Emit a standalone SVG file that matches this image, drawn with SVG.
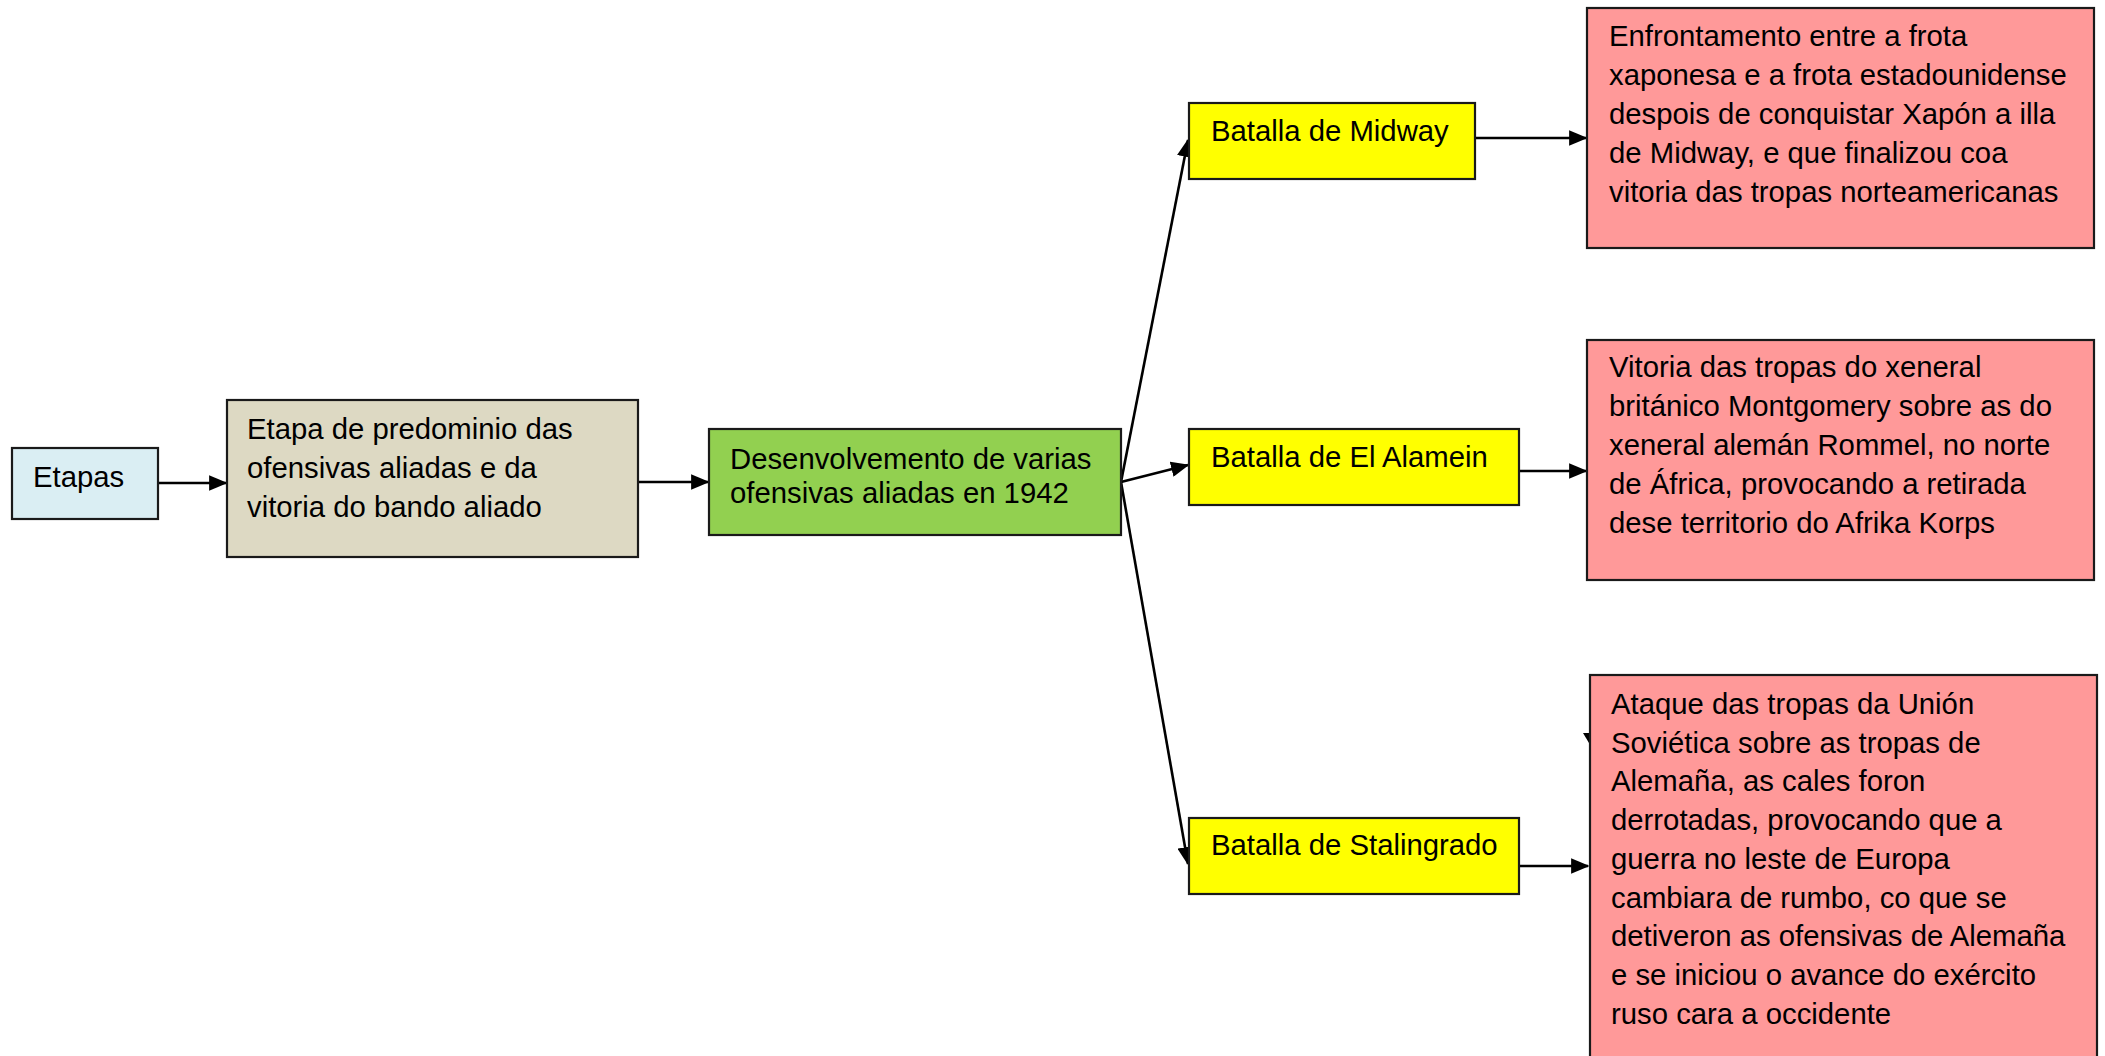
<svg xmlns="http://www.w3.org/2000/svg" width="2105" height="1056" viewBox="0 0 2105 1056">
<defs>
<marker id="ah" markerWidth="7" markerHeight="6" refX="6.5" refY="3" orient="auto" markerUnits="strokeWidth">
<path d="M0,0 L7,3 L0,6 Z" fill="#000"/>
</marker>
<style>
.box{stroke:#1a1a1a;stroke-width:2.2}
.t{font-family:"Liberation Sans",Arial,sans-serif;font-size:29.3px;fill:#000}
.c{stroke:#000;stroke-width:2.6;fill:none;marker-end:url(#ah)}
</style>
</defs>
<rect width="2105" height="1056" fill="#fff"/>
<g id="connectors">
<line class="c" x1="158" y1="483" x2="226" y2="483"/>
<line class="c" x1="638" y1="482" x2="708" y2="482"/>
<line class="c" x1="1121" y1="482" x2="1188" y2="140"/>
<line class="c" x1="1121" y1="482" x2="1188" y2="465"/>
<line class="c" x1="1121" y1="482" x2="1188" y2="864"/>
<line class="c" x1="1475" y1="138" x2="1586" y2="138"/>
<line class="c" x1="1519" y1="471" x2="1586" y2="471"/>
<line class="c" x1="1519" y1="866" x2="1588" y2="866"/>
<path d="M1583,733 L1592,733 L1589,743 Z" fill="#000"/>
</g>
<g id="etapas">
<rect class="box" x="12" y="448" width="146" height="71" fill="#DAEEF3"/>
<text class="t" x="33" y="487">Etapas</text>
</g>
<g id="etapa-predominio">
<rect class="box" x="227" y="400" width="411" height="157" fill="#DDD9C3"/>
<text class="t" x="247" y="439">Etapa de predominio das</text>
<text class="t" x="247" y="478">ofensivas aliadas e da</text>
<text class="t" x="247" y="517">vitoria do bando aliado</text>
</g>
<g id="desenvolvemento">
<rect class="box" x="709" y="429" width="412" height="106" fill="#92D050"/>
<text class="t" x="730" y="469">Desenvolvemento de varias</text>
<text class="t" x="730" y="503">ofensivas aliadas en 1942</text>
</g>
<g id="midway">
<rect class="box" x="1189" y="103" width="286" height="76" fill="#FFFF00"/>
<text class="t" x="1211" y="141">Batalla de Midway</text>
</g>
<g id="alamein">
<rect class="box" x="1189" y="429" width="330" height="76" fill="#FFFF00"/>
<text class="t" x="1211" y="467">Batalla de El Alamein</text>
</g>
<g id="stalingrado">
<rect class="box" x="1189" y="818" width="330" height="76" fill="#FFFF00"/>
<text class="t" x="1211" y="855">Batalla de Stalingrado</text>
</g>
<g id="midway-desc">
<rect class="box" x="1587" y="8" width="507" height="240" fill="#FF9999"/>
<text class="t" x="1609" y="46">Enfrontamento entre a frota</text>
<text class="t" x="1609" y="85">xaponesa e a frota estadounidense</text>
<text class="t" x="1609" y="124">despois de conquistar Xapón a illa</text>
<text class="t" x="1609" y="163">de Midway, e que finalizou coa</text>
<text class="t" x="1609" y="202">vitoria das tropas norteamericanas</text>
</g>
<g id="alamein-desc">
<rect class="box" x="1587" y="340" width="507" height="240" fill="#FF9999"/>
<text class="t" x="1609" y="377">Vitoria das tropas do xeneral</text>
<text class="t" x="1609" y="416">británico Montgomery sobre as do</text>
<text class="t" x="1609" y="455">xeneral alemán Rommel, no norte</text>
<text class="t" x="1609" y="494">de África, provocando a retirada</text>
<text class="t" x="1609" y="533">dese territorio do Afrika Korps</text>
</g>
<g id="stalingrado-desc">
<rect class="box" x="1590" y="675" width="507" height="400" fill="#FF9999"/>
<text class="t" x="1611" y="714">Ataque das tropas da Unión</text>
<text class="t" x="1611" y="753">Soviética sobre as tropas de</text>
<text class="t" x="1611" y="791">Alemaña, as cales foron</text>
<text class="t" x="1611" y="830">derrotadas, provocando que a</text>
<text class="t" x="1611" y="869">guerra no leste de Europa</text>
<text class="t" x="1611" y="908">cambiara de rumbo, co que se</text>
<text class="t" x="1611" y="946">detiveron as ofensivas de Alemaña</text>
<text class="t" x="1611" y="985">e se iniciou o avance do exército</text>
<text class="t" x="1611" y="1024">ruso cara a occidente</text>
</g>
</svg>
